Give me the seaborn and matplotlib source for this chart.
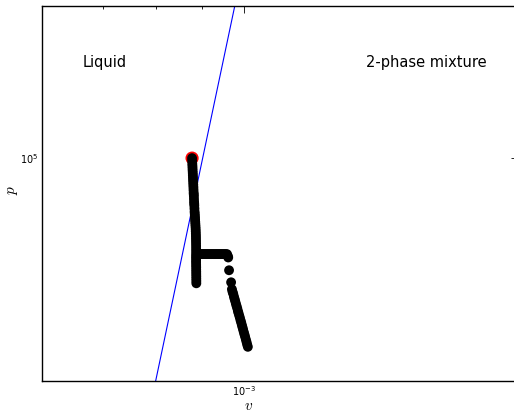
import matplotlib
matplotlib.use("Agg")
import matplotlib.pyplot as plt
import matplotlib.ticker as mticker
import seaborn as sns
import pandas as pd

# ---- data ----
# saturated-liquid boundary (blue line)
line_v = [7.83e-4, 9.98e-4]
line_p = [1.5e4, 4.0e5]

# initial state (red)
start_v = [8.77e-4]
start_p = [1.0e5]

# trajectory (black markers)
path_v = [
    8.770e-4, 8.772e-4, 8.775e-4, 8.778e-4, 8.780e-4, 8.782e-4, 8.785e-4, 8.787e-4,
    8.790e-4, 8.792e-4, 8.795e-4, 8.797e-4, 8.800e-4, 8.802e-4, 8.805e-4, 8.807e-4,
    8.810e-4, 8.812e-4, 8.815e-4, 8.818e-4, 8.820e-4, 8.823e-4, 8.826e-4, 8.829e-4,
    8.832e-4, 8.835e-4, 8.838e-4, 8.841e-4, 8.844e-4, 8.847e-4, 8.850e-4, 8.852e-4,
    8.854e-4, 8.856e-4, 8.857e-4, 8.858e-4, 8.859e-4, 8.860e-4, 8.860e-4, 8.860e-4,
    8.860e-4, 8.860e-4, 8.860e-4, 8.860e-4,
    8.89e-4, 8.92e-4, 8.95e-4, 8.98e-4, 9.01e-4, 9.04e-4, 9.07e-4, 9.10e-4,
    9.13e-4, 9.16e-4, 9.19e-4, 9.22e-4, 9.25e-4, 9.28e-4, 9.31e-4, 9.34e-4,
    9.37e-4, 9.40e-4, 9.43e-4, 9.46e-4, 9.49e-4, 9.52e-4, 9.55e-4, 9.58e-4,
    9.60e-4, 9.61e-4,
    9.63e-4, 9.68e-4,
    9.700e-4, 9.715e-4, 9.733e-4, 9.749e-4, 9.765e-4, 9.781e-4, 9.797e-4, 9.814e-4,
    9.832e-4, 9.847e-4, 9.862e-4, 9.880e-4, 9.897e-4, 9.914e-4, 9.931e-4, 9.946e-4,
    9.962e-4, 9.978e-4, 9.995e-4, 1.0012e-3, 1.0030e-3, 1.0048e-3, 1.0066e-3,
    1.0082e-3, 1.0099e-3,
]
path_p = [
    1.000e5, 9.80e4, 9.60e4, 9.45e4, 9.30e4, 9.15e4, 9.00e4, 8.85e4,
    8.70e4, 8.55e4, 8.40e4, 8.25e4, 8.10e4, 7.95e4, 7.80e4, 7.70e4,
    7.60e4, 7.45e4, 7.30e4, 7.20e4, 7.10e4, 6.95e4, 6.80e4, 6.70e4,
    6.60e4, 6.50e4, 6.40e4, 6.30e4, 6.20e4, 6.10e4, 6.00e4, 5.90e4,
    5.80e4, 5.70e4, 5.60e4, 5.50e4, 5.40e4, 5.30e4, 5.20e4, 5.10e4,
    5.00e4, 4.92e4, 4.85e4, 4.77e4,
    5.0e4, 5.0e4, 5.0e4, 5.0e4, 5.0e4, 5.0e4, 5.0e4, 5.0e4,
    5.0e4, 5.0e4, 5.0e4, 5.0e4, 5.0e4, 5.0e4, 5.0e4, 5.0e4,
    5.0e4, 5.0e4, 5.0e4, 5.0e4, 5.0e4, 5.0e4, 5.0e4, 5.0e4,
    4.93e4, 4.88e4,
    4.45e4, 4.08e4,
    3.88e4, 3.81e4, 3.75e4, 3.68e4, 3.62e4, 3.56e4, 3.50e4, 3.44e4,
    3.38e4, 3.32e4, 3.27e4, 3.21e4, 3.16e4, 3.10e4, 3.05e4, 3.00e4,
    2.95e4, 2.90e4, 2.85e4, 2.80e4, 2.75e4, 2.70e4, 2.65e4,
    2.60e4, 2.56e4,
]
# lower part of the vertical column, continuing below the branch point
col_v = [8.860e-4, 8.861e-4, 8.862e-4, 8.862e-4, 8.863e-4, 8.863e-4, 8.864e-4,
         8.864e-4, 8.865e-4, 8.865e-4]
col_p = [4.70e4, 4.62e4, 4.55e4, 4.47e4, 4.40e4, 4.33e4, 4.26e4,
         4.19e4, 4.12e4, 4.05e4]

region_labels = ["Liquid", "2-phase mixture"]
region_v = [7.035e-4, 1.585e-3]
region_p = [2.0e5, 2.0e5]

xlim = (6e-4, 2e-3)
ylim = (2e4, 3e5)

# ---- plot ----
sns.set_style("white")
plt.rcParams["font.family"] = ["DejaVu Sans"]
plt.rcParams["text.color"] = "black"
plt.rcParams["axes.labelcolor"] = "black"
plt.rcParams["xtick.color"] = "black"
plt.rcParams["ytick.color"] = "black"

fig = plt.figure(figsize=(5.14, 4.12), dpi=100)
ax = fig.add_axes([42 / 514, 31 / 412, 476 / 514, 375 / 412])
ax.set_xscale("log")
ax.set_yscale("log")

line_df = pd.DataFrame({"v": line_v, "p": line_p})
sns.lineplot(data=line_df, x="v", y="p", sort=False, color="#0000ff",
             linewidth=0.8, ax=ax)

start_df = pd.DataFrame({"v": start_v, "p": start_p})
sns.scatterplot(data=start_df, x="v", y="p", color="#ff0000", s=90,
                linewidth=0, edgecolor="none", ax=ax, zorder=3)

path_df = pd.DataFrame({"v": path_v + col_v, "p": path_p + col_p})
sns.scatterplot(data=path_df, x="v", y="p", color="black", s=50,
                linewidth=0, edgecolor="none", ax=ax, zorder=4)

for lab, xv, yv in zip(region_labels, region_v, region_p):
    ax.text(xv, yv, lab, ha="center", va="center", fontsize=10.5,
            color="black")

ax.set_xlim(*xlim)
ax.set_ylim(*ylim)

ax.xaxis.set_major_locator(mticker.LogLocator(base=10))
ax.yaxis.set_major_locator(mticker.LogLocator(base=10))
ax.xaxis.set_minor_locator(mticker.LogLocator(base=10, subs=range(2, 10)))
ax.yaxis.set_minor_locator(mticker.LogLocator(base=10, subs=range(2, 10)))
ax.xaxis.set_minor_formatter(mticker.NullFormatter())
ax.yaxis.set_minor_formatter(mticker.NullFormatter())

ax.tick_params(which="both", direction="in", top=True, right=True,
               labelsize=7, width=0.6, color="black", labelcolor="black", pad=3)
ax.tick_params(axis="x", which="both", pad=2)
ax.tick_params(which="major", length=5)
ax.tick_params(which="minor", length=2.5)

for sp in ax.spines.values():
    sp.set_linewidth(1.0)
    sp.set_color("black")

xl = ax.set_xlabel("$v$", fontsize=11)
yl = ax.set_ylabel("$p$", fontsize=11)
xl.set_math_fontfamily("cm")
yl.set_math_fontfamily("cm")
ax.xaxis.set_label_coords((249 - 42) / 476, (381 - 405) / 375)
ax.yaxis.set_label_coords((12 - 42) / 476, (381 - 190) / 375)
xl.set_va("center")
yl.set_va("center")
yl.set_ha("center")

fig.savefig("out.png", dpi=100)
